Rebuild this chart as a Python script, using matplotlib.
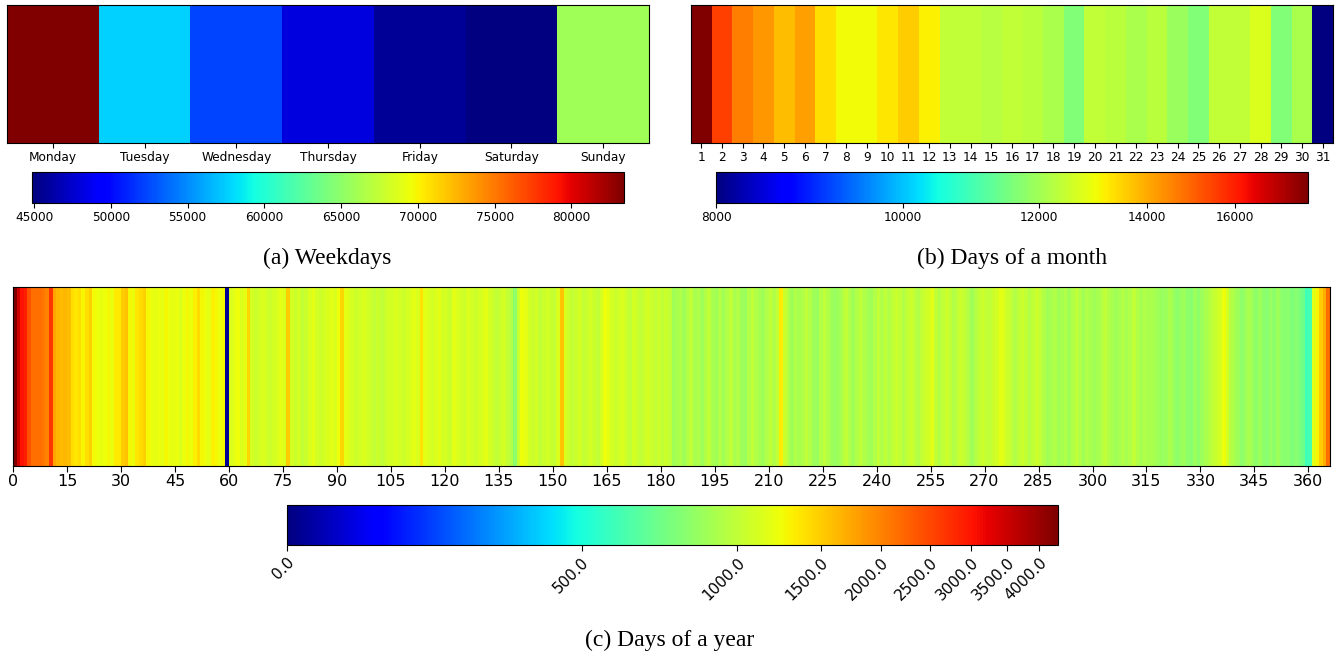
import numpy as np
import matplotlib
matplotlib.use("Agg")
import matplotlib.pyplot as plt
import matplotlib.colors as mcolors

# ---------------- data ----------------
weekday_labels = ["Monday", "Tuesday", "Wednesday", "Thursday", "Friday", "Saturday", "Sunday"]
weekday_values = [83430, 57550, 52280, 48100, 45630, 44860, 65840]

month_day_labels = [str(i) for i in range(1, 32)]
month_day_values = [17900, 15500, 14600, 14255, 13760, 14150, 13345, 13000, 13020, 13290,
                    13600, 13150, 12370, 12370, 12270, 12370, 12300, 12090, 11600, 12370,
                    12300, 12090, 12300, 11900, 11600, 12370, 12370, 12700, 11600, 12090,
                    8000]

year_day_values = [
    4300, 3450, 3000, 2900, 2400, 2150, 2150, 2150, 2100, 2000, 2700, 1750, 1650, 1600, 1650,
    1600, 1420, 1380, 1420, 1300, 1420, 1480, 1280, 1250, 1220, 1260, 1290, 1240, 1360, 1360,
    1520, 1580, 1290, 1240, 1380, 1430, 1480, 1290, 1240, 1200, 1240, 1200, 1290, 1240, 1200,
    1240, 1150, 1240, 1290, 1240, 1330, 1430, 1290, 1240, 1200, 1330, 1290, 1240, 1290, 30,
    1150, 1200, 1250, 1150, 1200, 1450, 1100, 1050, 1100, 1150, 1100, 1050, 1100, 1150, 1200,
    1150, 1500, 1100, 1050, 1100, 1000, 1050, 1150, 1200, 1100, 1050, 1100, 1150, 1200, 1150,
    1250, 1450, 1200, 1150, 1100, 1050, 1100, 1150, 1100, 1050, 1000, 1050, 1000, 1050, 1100,
    1100, 1150, 1100, 1050, 1100, 1150, 1200, 1150, 1400, 1200, 1150, 1100, 1150, 1200, 1100,
    1100, 1050, 1200, 1150, 1100, 1050, 1150, 1100, 1050, 1100, 1150, 1200, 1100, 1050, 1000,
    1050, 1100, 1000, 950, 850, 1050, 1250, 1200, 1100, 1050, 1100, 1000, 1050, 1100, 1050,
    1000, 1150, 1550, 1150, 1050, 1000, 1050, 1100, 1000, 1050, 1100, 1050, 1000, 1100, 1250,
    1200, 1100, 1050, 1100, 1150, 1050, 1000, 1100, 1050, 1000, 1050, 1100, 1050, 1000, 1050,
    1000, 1050, 1000, 900, 920, 950, 900, 950, 1000, 920, 950, 900, 950, 1000, 920,
    900, 950, 900, 950, 1000, 920, 950, 900, 880, 950, 1000, 950, 920, 900, 950,
    1000, 950, 1000, 1350, 1050, 950, 900, 950, 920, 950, 1000, 950, 900, 880, 950,
    1000, 950, 900, 870, 900, 950, 1000, 950, 900, 950, 1000, 950, 920, 900, 950,
    1000, 950, 1000, 950, 1000, 1050, 1000, 950, 1000, 1050, 1000, 950, 1000, 1050, 1100,
    1200, 1000, 950, 1000, 1050, 1000, 950, 1000, 1050, 1000, 950, 900, 950, 1000, 1050,
    1000, 1000, 1050, 1100, 1200, 1150, 1050, 1000, 950, 1000, 1050, 1000, 950, 1000, 1050,
    1000, 950, 900, 920, 950, 900, 920, 950, 900, 950, 1000, 950, 900, 950, 920,
    900, 920, 950, 1000, 950, 920, 900, 920, 950, 920, 950, 1000, 950, 920, 950,
    930, 930, 910, 890, 870, 890, 930, 890, 850, 870, 890, 850, 830, 890, 850,
    890, 930, 960, 1000, 1050, 1100, 1250, 1100, 960, 930, 890, 850, 890, 930, 890,
    850, 890, 850, 830, 870, 850, 890, 850, 830, 850, 800, 830, 800, 750, 600,
    620, 1200, 1300, 1500, 1700, 2200,
]
assert len(year_day_values) == 366

year_cbar_ticks = [0, 500, 1000, 1500, 2000, 2500, 3000, 3500, 4000]
month_cbar_ticks = [8000, 10000, 12000, 14000, 16000]
week_cbar_ticks = [45000, 50000, 55000, 60000, 65000, 70000, 75000, 80000]

# ---------------- figure ----------------
W, H = 1343, 656
fig = plt.figure(figsize=(W / 100, H / 100), dpi=100)


def ax_px(l, t, r, b):
    return fig.add_axes([l / W, 1 - b / H, (r - l) / W, (b - t) / H])


cmap = plt.get_cmap("jet")

# ---- (a) weekdays ----
norm_a = mcolors.Normalize(vmin=44860, vmax=83430)
ax_a = ax_px(7, 5, 649, 143)
vals = np.array(weekday_values, dtype=float)[None, :]
m_a = ax_a.pcolormesh(np.arange(len(weekday_values) + 1), [0, 1], vals, cmap=cmap, norm=norm_a)
ax_a.set_xticks(np.arange(len(weekday_values)) + 0.5)
ax_a.set_xticklabels(weekday_labels, fontsize=8.7)
ax_a.set_yticks([])
ax_a.tick_params(axis="x", length=3.5, pad=2)
cax_a = ax_px(32, 172, 624, 203)
cb_a = fig.colorbar(m_a, cax=cax_a, orientation="horizontal")
cb_a.set_ticks(week_cbar_ticks)
cb_a.set_ticklabels([str(t) for t in week_cbar_ticks])
cax_a.tick_params(labelsize=8.7, length=3.5, pad=2)

# ---- (b) days of a month ----
off_b = 3500.0
vmin_b, vmax_b = 8000.0, 17927.0


def fwd_b(x):
    return np.log(np.maximum(np.asarray(x, dtype=float) - off_b, 1e-6))


def inv_b(y):
    return np.exp(y) + off_b


norm_b = mcolors.FuncNorm((fwd_b, inv_b), vmin=vmin_b, vmax=vmax_b)
ax_b = ax_px(691, 5, 1333, 143)
vals = np.array(month_day_values, dtype=float)[None, :]
m_b = ax_b.pcolormesh(np.arange(len(month_day_values) + 1), [0, 1], vals, cmap=cmap, norm=norm_b)
ax_b.set_xticks(np.arange(len(month_day_values)) + 0.5)
ax_b.set_xticklabels(month_day_labels, fontsize=8.7)
ax_b.set_yticks([])
ax_b.tick_params(axis="x", length=3.5, pad=2)
cax_b = ax_px(716, 172, 1308, 203)
cb_b = fig.colorbar(m_b, cax=cax_b, orientation="horizontal")
cb_b.set_ticks(month_cbar_ticks)
cb_b.set_ticklabels([str(t) for t in month_cbar_ticks])
cax_b.minorticks_off()
cax_b.tick_params(labelsize=8.7, length=3.5, pad=2)

# ---- (c) days of a year ----
c_vals = np.array([0, 500, 1000, 1500, 2000, 2500, 3000, 3500, 4000, 4300], dtype=float)
c_pos = np.array([0, 0.382, 0.584, 0.692, 0.770, 0.834, 0.887, 0.934, 0.976, 1.0])


def fwd_c(x):
    return np.interp(np.asarray(x, dtype=float), c_vals, c_pos)


def inv_c(y):
    return np.interp(np.asarray(y, dtype=float), c_pos, c_vals)


norm_c = mcolors.FuncNorm((fwd_c, inv_c), vmin=0, vmax=4300)
ax_c = ax_px(13, 287, 1330, 466)
vals = np.array(year_day_values, dtype=float)[None, :]
m_c = ax_c.pcolormesh(np.arange(len(year_day_values) + 1), [0, 1], vals, cmap=cmap, norm=norm_c)
ax_c.set_xlim(0, len(year_day_values))
ax_c.set_xticks(np.arange(0, 361, 15))
ax_c.set_xticklabels([str(t) for t in range(0, 361, 15)], fontsize=11.5)
ax_c.set_yticks([])
ax_c.tick_params(axis="x", length=4, pad=2)
cax_c = ax_px(287, 505, 1058, 545)
cb_c = fig.colorbar(m_c, cax=cax_c, orientation="horizontal")
cb_c.set_ticks(year_cbar_ticks)
cax_c.minorticks_off()
cb_c.set_ticklabels([f"{float(t):.1f}" for t in year_cbar_ticks])
for lab in cax_c.get_xticklabels():
    lab.set_rotation(45)
    lab.set_ha("right")
    lab.set_va("top")
    lab.set_rotation_mode("anchor")
    lab.set_fontsize(11)
cax_c.tick_params(length=4, pad=3)

# ---- captions ----
cap_font = dict(family=["Liberation Serif", "DejaVu Serif"], fontsize=17, ha="center", va="center")
fig.text(327 / W, 1 - 258 / H, "(a) Weekdays", **cap_font)
fig.text(1012 / W, 1 - 258 / H, "(b) Days of a month", **cap_font)
fig.text(670 / W, 1 - 640 / H, "(c) Days of a year", **cap_font)

fig.savefig("out.png", dpi=100)
